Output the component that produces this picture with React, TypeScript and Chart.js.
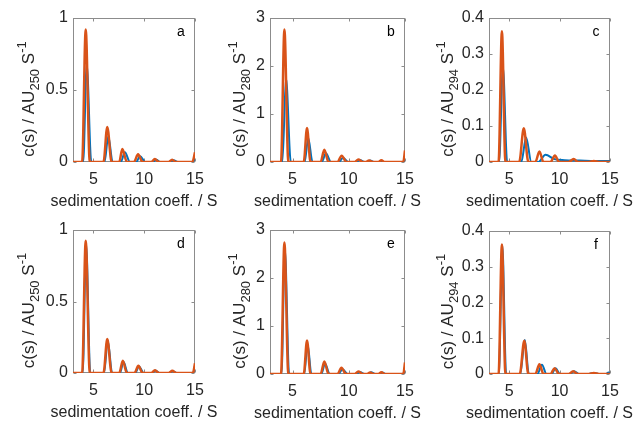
import React, { useEffect, useRef } from "react";
import { Chart, registerables } from "chart.js";

Chart.register(...registerables);

// ---------- text ----------
const X_TITLE = "sedimentation coeff. / S";
const Y_TITLE_MAIN = "c(s) / AU";
const Y_TITLE_UNIT = " S";
const Y_TITLE_EXP = "-1";
const WAVELENGTHS = ["250", "280", "294", "250", "280", "294"];
const PANEL_LETTERS = ["a", "b", "c", "d", "e", "f"];

// ---------- axes ----------
const X_MIN = 3;
const X_MAX = 15;
const X_TICKS = [5, 10, 15];
const Y_TICKS_250 = [0, 0.5, 1];
const Y_TICKS_280 = [0, 1, 2, 3];
const Y_TICKS_294 = [0, 0.1, 0.2, 0.3, 0.4];

// ---------- data (s in S, c(s)) ----------
// panel a
const S_A_BLUE = [3, 4.0, 4.35, 4.8, 6.1, 6.47, 6.9, 7.7, 8.1, 8.6, 9.2, 9.6, 10.1, 10.8, 11.2, 11.6, 12.5, 12.9, 13.3, 14.7, 15];
const C_A_BLUE = [0, 0, 0.676, 0, 0, 0.178, 0, 0, 0.067, 0, 0, 0.04, 0, 0, 0.015, 0, 0, 0.012, 0, 0, 0.02];
const S_A_ORANGE = [3, 3.9, 4.25, 4.65, 6.0, 6.37, 6.8, 7.55, 7.85, 8.3, 9.0, 9.4, 9.85, 10.7, 11.05, 11.45, 12.4, 12.75, 13.1, 14.75, 15];
const C_A_ORANGE = [0, 0, 0.92, 0, 0, 0.243, 0, 0, 0.09, 0, 0, 0.053, 0, 0, 0.02, 0, 0, 0.016, 0, 0, 0.068];
// panel b
const S_B_BLUE = [3, 4.1, 4.42, 4.85, 6.08, 6.4, 6.78, 7.6, 7.97, 8.42, 9.1, 9.5, 9.95, 10.6, 11.0, 11.4, 11.6, 11.9, 12.3, 14.8, 15];
const C_B_BLUE = [0, 0, 1.75, 0, 0, 0.5, 0, 0, 0.18, 0, 0, 0.09, 0, 0, 0.04, 0, 0, 0.03, 0, 0, 0.05];
const S_B_ORANGE = [3, 3.98, 4.28, 4.63, 6.0, 6.29, 6.6, 7.5, 7.83, 8.2, 9.0, 9.37, 9.8, 10.5, 10.85, 11.25, 11.5, 11.8, 12.2, 12.6, 12.9, 13.2, 14.85, 15];
const C_B_ORANGE = [0, 0, 2.76, 0, 0, 0.71, 0, 0, 0.256, 0, 0, 0.13, 0, 0, 0.05, 0, 0, 0.03, 0, 0, 0.035, 0, 0, 0.24];
// panel c
const S_C_BLUE = [3, 4.0, 4.38, 4.8, 6.2, 6.68, 7.2, 7.9, 8.6, 9.5, 10.5, 12.0, 13.5, 15];
const C_C_BLUE = [0, 0, 0.264, 0, 0, 0.068, 0, 0, 0.02, 0.008, 0.005, 0.004, 0.003, 0.003];
const S_C_ORANGE = [3, 3.95, 4.28, 4.63, 6.0, 6.45, 6.9, 7.6, 8.0, 8.4, 9.1, 9.54, 9.95, 10.9, 11.4, 11.85, 12.9, 13.4, 13.9, 15];
const C_C_ORANGE = [0, 0, 0.363, 0, 0, 0.094, 0, 0, 0.029, 0, 0, 0.018, 0, 0, 0.008, 0, 0, 0.003, 0, 0];
// panel d
const S_D_BLUE = [3, 3.95, 4.29, 4.7, 6.05, 6.42, 6.85, 7.62, 7.96, 8.4, 9.1, 9.5, 9.95, 10.75, 11.12, 11.5, 12.45, 12.83, 13.2, 14.8, 15];
const C_D_BLUE = [0, 0, 0.9, 0, 0, 0.225, 0, 0, 0.078, 0, 0, 0.045, 0, 0, 0.018, 0, 0, 0.013, 0, 0, 0.05];
const S_D_ORANGE = [3, 3.9, 4.25, 4.65, 6.0, 6.37, 6.8, 7.55, 7.9, 8.3, 9.05, 9.43, 9.85, 10.7, 11.06, 11.45, 12.4, 12.77, 13.15, 14.8, 15];
const C_D_ORANGE = [0, 0, 0.925, 0, 0, 0.237, 0, 0, 0.085, 0, 0, 0.05, 0, 0, 0.02, 0, 0, 0.015, 0, 0, 0.068];
// panel e
const S_E_BLUE = [3, 4.02, 4.32, 4.7, 6.04, 6.34, 6.68, 7.56, 7.9, 8.3, 9.08, 9.45, 9.9, 10.6, 11.0, 11.4, 11.7, 12.0, 12.35, 12.7, 13.0, 13.3, 14.85, 15];
const C_E_BLUE = [0, 0, 2.6, 0, 0, 0.62, 0, 0, 0.22, 0, 0, 0.1, 0, 0, 0.04, 0, 0, 0.035, 0, 0, 0.03, 0, 0, 0.15];
const S_E_ORANGE = [3, 3.98, 4.28, 4.63, 6.0, 6.29, 6.6, 7.5, 7.83, 8.2, 9.0, 9.35, 9.75, 10.5, 10.85, 11.25, 11.6, 11.9, 12.25, 12.6, 12.9, 13.2, 14.85, 15];
const C_E_ORANGE = [0, 0, 2.74, 0, 0, 0.7, 0, 0, 0.26, 0, 0, 0.13, 0, 0, 0.05, 0, 0, 0.03, 0, 0, 0.035, 0, 0, 0.24];
// panel f
const S_F_BLUE = [3, 3.98, 4.32, 4.7, 6.1, 6.55, 6.95, 7.8, 8.25, 8.7, 9.2, 9.6, 10.05, 11.0, 11.45, 11.9, 12.8, 13.4, 14.0, 14.6, 14.85, 15];
const C_F_BLUE = [0, 0, 0.36, 0, 0, 0.095, 0, 0, 0.026, 0, 0, 0.016, 0, 0, 0.008, 0, 0, 0.003, 0, 0, 0.004, 0.003];
const S_F_ORANGE = [3, 3.95, 4.28, 4.63, 6.05, 6.5, 6.9, 7.6, 8.0, 8.4, 9.1, 9.5, 9.95, 10.9, 11.35, 11.8, 12.9, 13.4, 13.9, 15];
const C_F_ORANGE = [0, 0, 0.362, 0, 0, 0.093, 0, 0, 0.027, 0, 0, 0.016, 0, 0, 0.008, 0, 0, 0.003, 0, 0];

// ---------- styles ----------
const FONT = '"Liberation Sans", Arial, Helvetica, sans-serif';
const TEXT_COLOR = "#262626";
const BOX_COLOR = "#8c8c8c";
const BLUE = "#0072BD";
const ORANGE = "#D95319";

type Panel = {
  sBlue: number[]; cBlue: number[]; sOrange: number[]; cOrange: number[];
  yMax: number; yTicks: number[]; wl: string; letter: string;
  cx: number; cy: number; cw: number; ch: number;
  L: number; R: number; T: number; B: number; yTitleGap: number;
};

const PANELS: Panel[] = [
  { sBlue: S_A_BLUE, cBlue: C_A_BLUE, sOrange: S_A_ORANGE, cOrange: C_A_ORANGE, yMax: 1, yTicks: Y_TICKS_250, wl: WAVELENGTHS[0], letter: PANEL_LETTERS[0],
    cx: 0, cy: 0, cw: 222, ch: 212, L: 73, R: 195, T: 18, B: 162, yTitleGap: 39 },
  { sBlue: S_B_BLUE, cBlue: C_B_BLUE, sOrange: S_B_ORANGE, cOrange: C_B_ORANGE, yMax: 3, yTicks: Y_TICKS_280, wl: WAVELENGTHS[1], letter: PANEL_LETTERS[1],
    cx: 200, cy: 0, cw: 230, ch: 212, L: 270, R: 405, T: 18, B: 162, yTitleGap: 25 },
  { sBlue: S_C_BLUE, cBlue: C_C_BLUE, sOrange: S_C_ORANGE, cOrange: C_C_ORANGE, yMax: 0.4, yTicks: Y_TICKS_294, wl: WAVELENGTHS[2], letter: PANEL_LETTERS[2],
    cx: 410, cy: 0, cw: 224, ch: 212, L: 489, R: 610, T: 18, B: 162, yTitleGap: 36 },
  { sBlue: S_D_BLUE, cBlue: C_D_BLUE, sOrange: S_D_ORANGE, cOrange: C_D_ORANGE, yMax: 1, yTicks: Y_TICKS_250, wl: WAVELENGTHS[3], letter: PANEL_LETTERS[3],
    cx: 0, cy: 212, cw: 222, ch: 209, L: 73, R: 195, T: 230, B: 373, yTitleGap: 39 },
  { sBlue: S_E_BLUE, cBlue: C_E_BLUE, sOrange: S_E_ORANGE, cOrange: C_E_ORANGE, yMax: 3, yTicks: Y_TICKS_280, wl: WAVELENGTHS[4], letter: PANEL_LETTERS[4],
    cx: 200, cy: 212, cw: 230, ch: 209, L: 270, R: 405, T: 230, B: 374, yTitleGap: 25 },
  { sBlue: S_F_BLUE, cBlue: C_F_BLUE, sOrange: S_F_ORANGE, cOrange: C_F_ORANGE, yMax: 0.4, yTicks: Y_TICKS_294, wl: WAVELENGTHS[5], letter: PANEL_LETTERS[5],
    cx: 410, cy: 212, cw: 224, ch: 209, L: 489, R: 610, T: 231, B: 374, yTitleGap: 36 },
];

function toPoints(s: number[], c: number[]) {
  return s.map((x, i) => ({ x, y: c[i] }));
}

function makeDecor(p: Panel) {
  return {
    id: "panelDecor",
    beforeDatasetsDraw(chart: any) {
      const { ctx, chartArea } = chart;
      const { left, right, top, bottom } = chartArea;
      const xs = chart.scales.x;
      const ys = chart.scales.y;
      ctx.save();
      ctx.strokeStyle = BOX_COLOR;
      ctx.lineWidth = 1;
      const l = Math.round(left) + 0.5, r = Math.round(right) - 0.5;
      const t = Math.round(top) + 0.5, b = Math.round(bottom) - 0.5;
      ctx.strokeRect(l, t, r - l, b - t);
      ctx.beginPath();
      const TL = 3;
      X_TICKS.forEach((v) => {
        const px = Math.round(xs.getPixelForValue(v)) + 0.5;
        ctx.moveTo(px, b); ctx.lineTo(px, b - TL);
        ctx.moveTo(px, t); ctx.lineTo(px, t + TL);
      });
      p.yTicks.forEach((v) => {
        const py = Math.round(ys.getPixelForValue(v)) + 0.5;
        ctx.moveTo(l, py); ctx.lineTo(l + TL, py);
        ctx.moveTo(r, py); ctx.lineTo(r - TL, py);
      });
      ctx.stroke();
      ctx.restore();
    },
    afterDraw(chart: any) {
      const { ctx, chartArea } = chart;
      const { left, right, top, bottom } = chartArea;
      ctx.save();
      ctx.fillStyle = TEXT_COLOR;
      // x title
      ctx.font = `16px ${FONT}`;
      ctx.textAlign = "center";
      ctx.textBaseline = "middle";
      ctx.fillText(X_TITLE, (left + right) / 2, bottom + 40);
      // y title with subscript / superscript
      const main = `17px ${FONT}`;
      const small = `13px ${FONT}`;
      ctx.font = main;
      const w1 = ctx.measureText(Y_TITLE_MAIN).width;
      const w3 = ctx.measureText(Y_TITLE_UNIT).width;
      ctx.font = small;
      const w2 = ctx.measureText(p.wl).width;
      const w4 = ctx.measureText(Y_TITLE_EXP).width;
      const total = w1 + w2 + w3 + w4;
      ctx.translate(left - p.yTitleGap, (top + bottom) / 2 + 9);
      ctx.rotate(-Math.PI / 2);
      ctx.textAlign = "left";
      ctx.textBaseline = "alphabetic";
      let x = -total / 2;
      ctx.font = main; ctx.fillText(Y_TITLE_MAIN, x, 0); x += w1;
      ctx.font = small; ctx.fillText(p.wl, x, 5); x += w2;
      ctx.font = main; ctx.fillText(Y_TITLE_UNIT, x, 0); x += w3;
      ctx.font = small; ctx.fillText(Y_TITLE_EXP, x, -8);
      ctx.restore();
      // panel letter
      ctx.save();
      ctx.fillStyle = "#000";
      ctx.font = `14px ${FONT}`;
      ctx.textAlign = "center";
      ctx.textBaseline = "middle";
      ctx.fillText(p.letter, right - 14, top + 14);
      ctx.restore();
    },
  };
}

function PanelChart({ p }: { p: Panel }) {
  const ref = useRef<HTMLCanvasElement | null>(null);
  useEffect(() => {
    if (!ref.current) return;
    const yWidth = p.L - p.cx;
    const xHeight = p.cy + p.ch - p.B;
    const chart = new Chart(ref.current, {
      type: "line",
      data: {
        datasets: [
          {
            data: toPoints(p.sOrange, p.cOrange),
            borderColor: ORANGE,
            borderWidth: 2.5,
            pointRadius: 0,
            cubicInterpolationMode: "monotone",
            order: 1,
          },
          {
            data: toPoints(p.sBlue, p.cBlue),
            borderColor: BLUE,
            borderWidth: 2,
            pointRadius: 0,
            cubicInterpolationMode: "monotone",
            order: 2,
          },
        ],
      },
      options: {
        responsive: false,
        animation: false,
        events: [],
        layout: { padding: { left: 0, top: p.T - p.cy, right: p.cx + p.cw - p.R, bottom: 0 } },
        plugins: { legend: { display: false }, tooltip: { enabled: false }, title: { display: false } },
        scales: {
          x: {
            type: "linear",
            min: X_MIN,
            max: X_MAX,
            afterBuildTicks: (s: any) => { s.ticks = X_TICKS.map((v) => ({ value: v })); },
            afterFit: (s: any) => { s.height = xHeight; },
            grid: { display: false, drawTicks: false },
            border: { display: false },
            ticks: {
              font: { family: FONT, size: 16 },
              color: TEXT_COLOR,
              padding: 8,
              maxRotation: 0,
              autoSkip: false,
              callback: (v: any) => String(v),
            },
          },
          y: {
            type: "linear",
            min: 0,
            max: p.yMax,
            afterBuildTicks: (s: any) => { s.ticks = p.yTicks.map((v) => ({ value: v })); },
            afterFit: (s: any) => { s.width = yWidth; },
            grid: { display: false, drawTicks: false },
            border: { display: false },
            ticks: {
              font: { family: FONT, size: 16 },
              color: TEXT_COLOR,
              padding: 5,
              autoSkip: false,
              callback: (v: any) => String(v),
            },
          },
        },
      } as any,
      plugins: [makeDecor(p)],
    });
    return () => chart.destroy();
  }, [p]);
  return (
    <canvas
      ref={ref}
      width={p.cw}
      height={p.ch}
      style={{ position: "absolute", left: p.cx, top: p.cy, width: p.cw, height: p.ch }}
    />
  );
}

export default function App() {
  return (
    <div style={{ position: "absolute", left: 0, top: 0, width: 634, height: 421, background: "#fff" }}>
      {PANELS.map((p, i) => (
        <PanelChart key={i} p={p} />
      ))}
    </div>
  );
}
